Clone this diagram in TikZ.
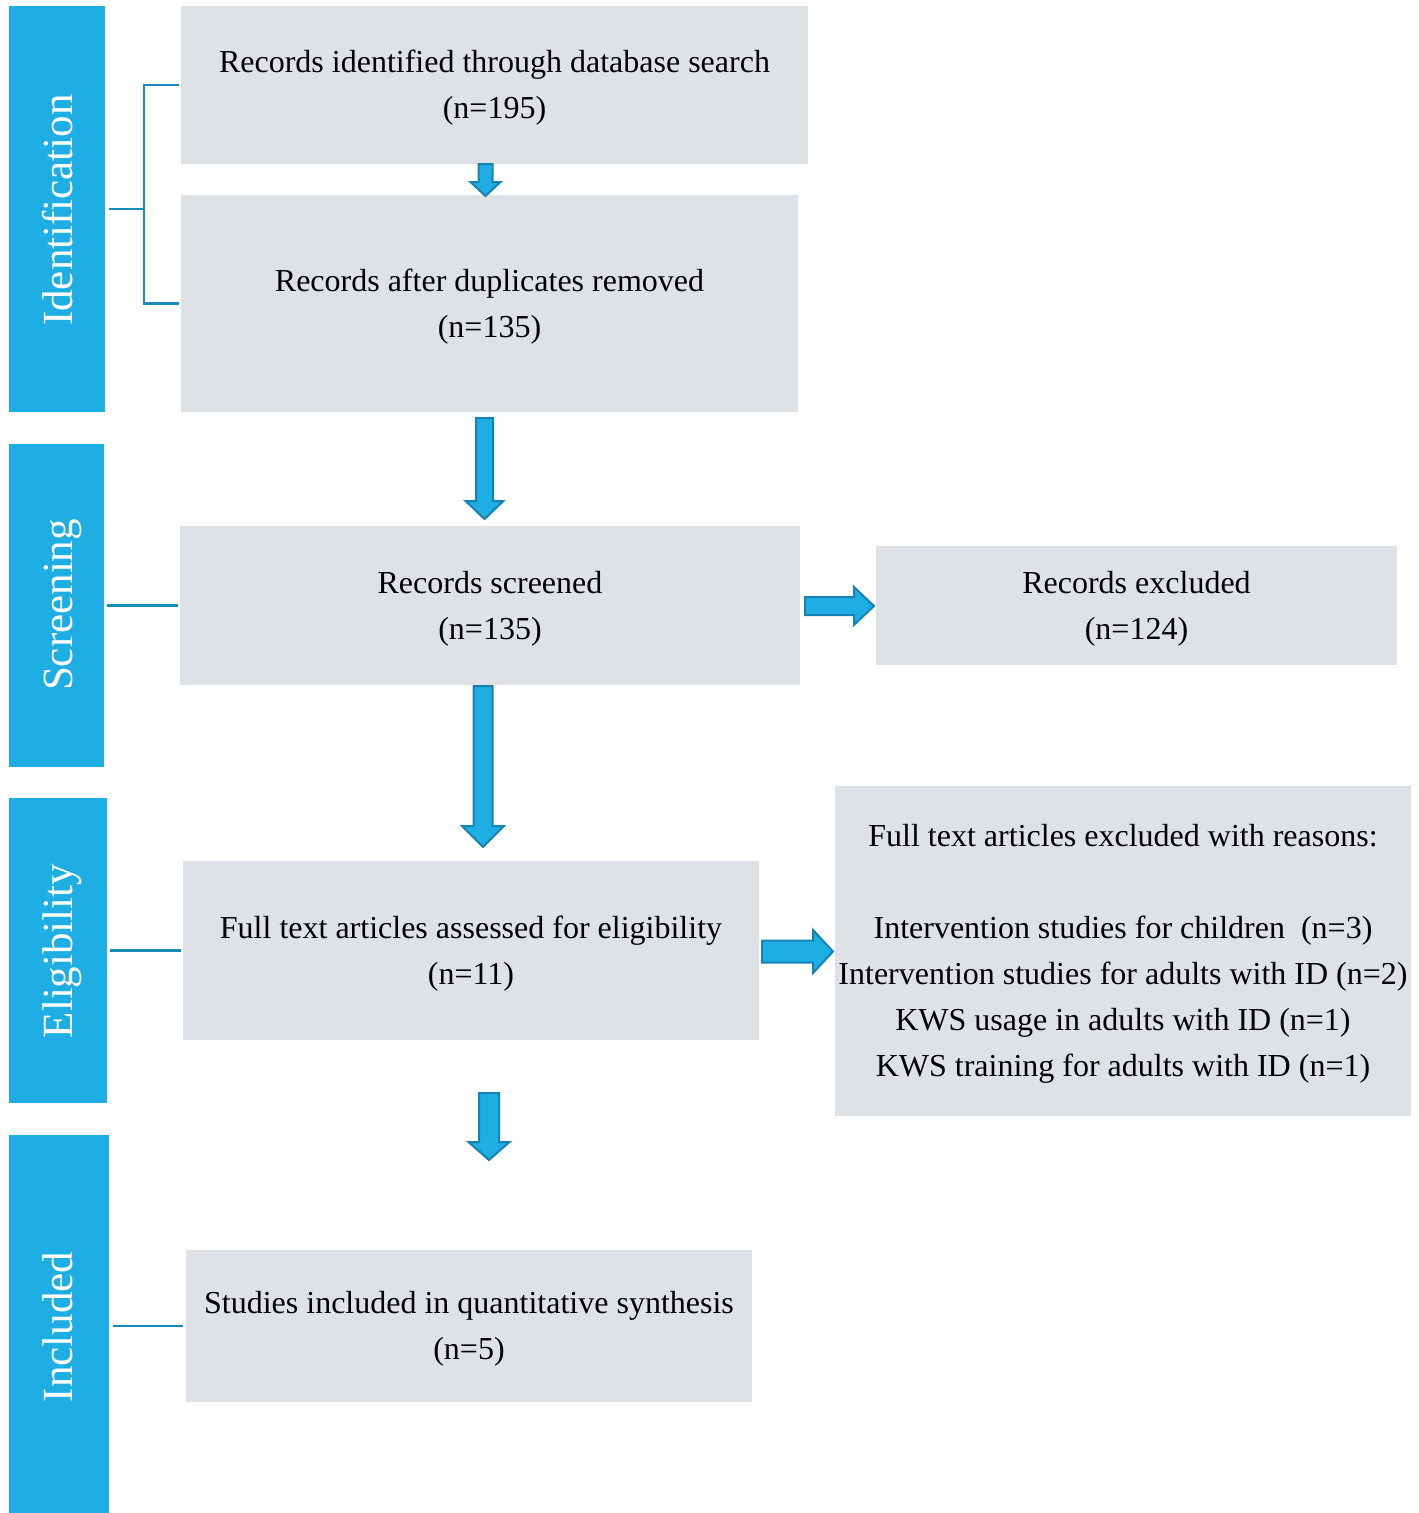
\documentclass[tikz,border=0pt]{standalone}
\usepackage{fontspec}
\setmainfont{Liberation Serif}
\definecolor{barblue}{RGB}{30,174,228}
\definecolor{linkblue}{RGB}{26,138,184}
\definecolor{arrowblue}{RGB}{22,132,178}
\definecolor{boxgray}{RGB}{222,226,230}
\newcommand\blkdown[6]{% x, ytop, ytip, shaft half, head half, head length
  \draw[blk] (#1-#4,#2) -- (#1+#4,#2) -- (#1+#4,#3-#6) -- (#1+#5,#3-#6) -- (#1,#3)
    -- (#1-#5,#3-#6) -- (#1-#4,#3-#6) -- cycle;}
\newcommand\blkright[6]{% y, xleft, xtip, shaft half, head half, head length
  \draw[blk] (#2,#1-#4) -- (#3-#6,#1-#4) -- (#3-#6,#1-#5) -- (#3,#1) -- (#3-#6,#1+#5)
    -- (#3-#6,#1+#4) -- (#2,#1+#4) -- cycle;}
\begin{document}
\begin{tikzpicture}[x=1pt,y=-1pt,
  box/.style={fill=boxgray,inner sep=0pt},
  boxtext/.style={inner sep=0pt,align=center,font=\fontsize{32}{46}\selectfont},
  bar/.style={fill=barblue,inner sep=0pt},
  barlabel/.style={rotate=90,anchor=base,text=white,inner sep=0pt,font=\fontsize{43}{50}\selectfont},
  conn/.style={draw=linkblue,line width=2.5pt},
  blk/.style={fill=barblue,draw=arrowblue,line width=2pt,line join=miter}]
\useasboundingbox (0,0) rectangle (1419,1513);
% stage bars
\node[bar,minimum width=96pt,minimum height=406pt] (sid) at (57,209) {};
\node[bar,minimum width=95pt,minimum height=323pt] (sscr) at (56.5,605.5) {};
\node[bar,minimum width=98pt,minimum height=305pt] (seli) at (58,950.5) {};
\node[bar,minimum width=100pt,minimum height=378pt] (sinc) at (59,1324) {};
\node[barlabel] (lid) at (72,210) {Identification};
\node[barlabel] (lscr) at (72,605) {Screening};
\node[barlabel] (leli) at (72,951) {Eligibility};
\node[barlabel] (linc) at (72,1327) {Included};
% boxes
\node[box,minimum width=627pt,minimum height=158pt] (b1) at (494.5,85) {};
\node[box,minimum width=617pt,minimum height=217pt] (b2) at (489.5,303.5) {};
\node[box,minimum width=620pt,minimum height=159pt] (b3) at (490,605.5) {};
\node[box,minimum width=521pt,minimum height=119pt] (b4) at (1136.5,605.5) {};
\node[box,minimum width=576pt,minimum height=179pt] (b5) at (471,950.5) {};
\node[box,minimum width=576pt,minimum height=330pt] (b6) at (1123,951) {};
\node[box,minimum width=566pt,minimum height=152pt] (b7) at (469,1326) {};
% box texts
\node[boxtext] (t1) at ([yshift=-3pt]b1.center)
  {Records identified through database search\\(n=195)};
\node[boxtext] (t2) at ([yshift=-3pt]b2.center)
  {Records after duplicates removed\\(n=135)};
\node[boxtext] (t3) at ([yshift=-3pt]b3.center)
  {Records screened\\(n=135)};
\node[boxtext] (t4) at ([yshift=-3pt]b4.center)
  {Records excluded\\(n=124)};
\node[boxtext] (t5) at ([yshift=-3pt]b5.center)
  {Full text articles assessed for eligibility\\(n=11)};
\node[boxtext] (t6) at ([yshift=-3pt]b6.center)
  {Full text articles excluded with reasons:\\[46pt]Intervention studies for children~~(n=3)\\
   Intervention studies for adults with ID (n=2)\\KWS usage in adults with ID (n=1)\\
   KWS training for adults with ID (n=1)};
\node[boxtext] (t7) at ([yshift=-3pt]b7.center)
  {Studies included in quantitative synthesis\\(n=5)};
% connectors from stage bars
\coordinate (br) at (144,209);
\draw[conn] ([xshift=-2pt]b1.west) -| (br) |- ([xshift=-2pt]b2.west);
\draw[conn] ([xshift=4pt]sid.east) -- (br);
\draw[conn] ([xshift=3pt]sscr.east) -- ([xshift=-2pt]b3.west);
\draw[conn] ([xshift=3pt]seli.east) -- ([xshift=-2pt]b5.west);
\draw[conn] ([xshift=4pt]sinc.east |- b7.west) -- ([xshift=-3pt]b7.west);
% block arrows
\blkdown{485.5}{164}{196}{7}{15}{14}
\blkdown{484.5}{418}{519}{8.5}{19}{18}
\blkdown{483}{686}{847}{9.5}{21}{21}
\blkdown{489}{1093}{1160}{10}{20.5}{18}
\blkright{606}{805}{874}{9}{19}{20}
\blkright{951.5}{762}{833}{11}{21.5}{20}
\end{tikzpicture}
\end{document}
